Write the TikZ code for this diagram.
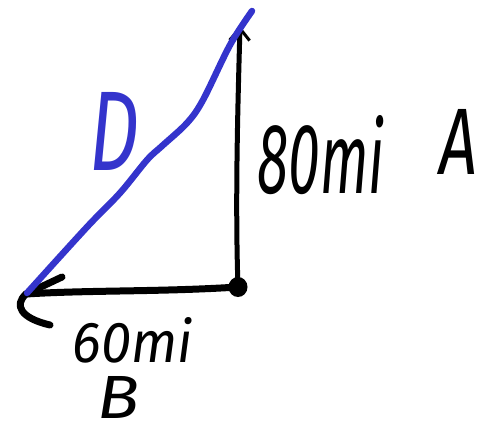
\documentclass[tikz,border=0pt]{standalone}
\usepackage{fontspec}
\setmainfont{Fira Sans}
\usetikzlibrary{arrows.meta}
\definecolor{penblue}{RGB}{52,52,204}
\tikzset{
  pen/.style={line width=7pt, line cap=round, line join=round, black},
  thinpen/.style={line width=5pt, line cap=round, line join=round, black},
  bluepen/.style={line width=6.5pt, line cap=round, line join=round, penblue},
  hand/.style={inner sep=0pt, font=\itshape},
  tip/.style={-{Straight Barb[length=12pt,width=20pt,line width=3pt]}}
}
\begin{document}
\begin{tikzpicture}[x=1pt,y=-1pt]
\useasboundingbox (0,0) rectangle (485,431);
\coordinate (C) at (238,287);
\coordinate (T) at (240,26);
\coordinate (L) at (26,294);
\coordinate (BT) at (252,11);
\fill[black] (C) ellipse (9.5 and 10);
\draw[thinpen,tip] (C) .. controls (235,200) and (238,100) .. (T);
\draw[pen] (C) .. controls (160,292) and (90,290) .. (L);
\draw[pen] (L) -- (62,277);
\draw[pen] (L) .. controls (14,305) and (20,318) .. (50,325);
\draw[bluepen] plot[smooth, tension=0.55] coordinates {(27,293) (87,227) (120,193) (147,160) (162,146) (187,123) (203,100) (230,45) (252,11)};
\node[hand, text=penblue] (D) at (115,131) {\resizebox{50pt}{78pt}{D}};
\node[hand] (t80) at (321,155) {\resizebox{127pt}{78pt}{80mi}};
\node[hand] (A) at (459,142) {\resizebox{38pt}{65pt}{A}};
\node[hand] (t60) at (133,340) {\resizebox{120pt}{45pt}{60mi}};
\node[hand] (B) at (119,397) {\resizebox{42pt}{42pt}{B}};
\end{tikzpicture}
\end{document}
